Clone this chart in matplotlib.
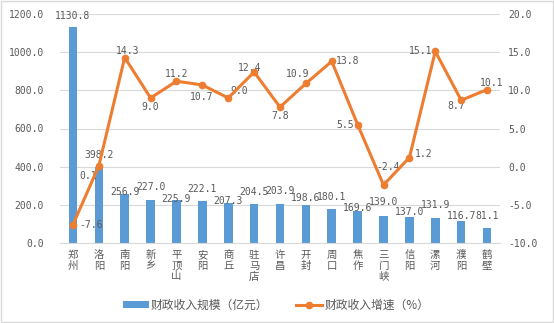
import matplotlib
matplotlib.use('Agg')
import matplotlib.pyplot as plt
import numpy as np

plt.rcParams['font.family'] = ['Noto Sans CJK SC', 'DejaVu Sans']

# 数据
cities = ['郑州', '洛阳', '南阳', '新乡', '平顶山', '安阳', '商丘', '驻马店', '许昌',
          '开封', '周口', '焦作', '三门峡', '信阳', '漯河', '濮阳', '鹤壁']
revenue = [1130.8, 398.2, 256.9, 227.0, 225.9, 222.1, 207.3, 204.5, 203.9,
           198.6, 180.1, 169.6, 139.0, 137.0, 131.9, 116.7, 81.1]
growth = [-7.6, 0.1, 14.3, 9.0, 11.2, 10.7, 9.0, 12.4, 7.8,
          10.9, 13.8, 5.5, -2.4, 1.2, 15.1, 8.7, 10.1]

# 标签位置（像素偏移，模仿原图的自动避让）
bar_dy = [11, 12, 2, 13, 1, 12, 2, 12, 13, 7, 12, 3, 14, 5, 13, 5, 12]
growth_offsets = [(18, 0), (-11, -10), (3, 7), (0, -9), (0, 7), (-1, -12), (11, 7), (-5, 4), (0, -9),
                  (-8, 9), (16, 0), (-13, 0), (5, 18), (14, 4), (-15, 0), (-5, -6), (5, 7)]

BAR_C = '#5B9BD5'
LINE_C = '#ED7D31'
TXT_C = '#595959'
NUM_FONT = ['DejaVu Sans Mono']

fig = plt.figure(figsize=(5.54, 3.23), dpi=100)
ax1 = fig.add_axes([60 / 554, 1 - 243 / 323, 440 / 554, 229 / 323])
ax2 = ax1.twinx()

x = np.arange(len(cities))
bars = ax1.bar(x, revenue, width=0.33, color=BAR_C, zorder=2, label='财政收入规模（亿元）')
ax1.set_ylim(0, 1200)
ax1.set_yticks(np.arange(0, 1201, 200))
ax1.set_yticklabels([f'{v:.1f}' for v in np.arange(0, 1201, 200)], family=NUM_FONT)
ax1.set_xlim(-0.5, len(cities) - 0.5)
ax1.grid(axis='y', color='#D9D9D9', lw=0.8, zorder=0)
ax1.set_axisbelow(True)
ax1.set_xticks(x)
ax1.set_xticklabels([])
ax1.tick_params(length=0, labelsize=7, colors=TXT_C, pad=11.5)

for i, v in enumerate(revenue):
    ax1.annotate(f'{v:.1f}', (x[i], v), xytext=(0, bar_dy[i]), textcoords='offset pixels',
                 ha='center', va='center', fontsize=7, color=TXT_C, zorder=5, family=NUM_FONT)

for i, c in enumerate(cities):
    ax1.text(x[i], -0.03, '\n'.join(c), transform=ax1.get_xaxis_transform(),
             ha='center', va='top', fontsize=7.5, color=TXT_C, linespacing=1.1)

line, = ax2.plot(x, growth, color=LINE_C, lw=2.2, marker='o', markersize=4.5,
                 zorder=4, label='财政收入增速（%）')
ax2.set_ylim(-10, 20)
ax2.set_yticks(np.arange(-10, 21, 5))
ax2.set_yticklabels([f'{v:.1f}' for v in np.arange(-10, 21, 5)], family=NUM_FONT)
ax2.tick_params(length=0, labelsize=7, colors=TXT_C, pad=6)

for i, v in enumerate(growth):
    dx, dy = growth_offsets[i]
    arrow = dict(arrowstyle='-', color='#A6A6A6', lw=0.6, shrinkA=4, shrinkB=2) if dy > 15 else None
    ax2.annotate(f'{v:.1f}', (x[i], v), xytext=(dx, dy), textcoords='offset pixels',
                 ha='center', va='center', fontsize=7, color=TXT_C, family=NUM_FONT,
                 arrowprops=arrow)

for ax in (ax1, ax2):
    for s in ax.spines.values():
        s.set_visible(False)
ax1.spines['bottom'].set_visible(True)
ax1.spines['bottom'].set_color('#D9D9D9')

fig.legend(handles=[bars, line], loc='center', bbox_to_anchor=(276 / 554, 1 - 305 / 323),
           ncol=2, frameon=False, fontsize=8.5, handlelength=2.2, handleheight=0.5,
           handletextpad=0.15, columnspacing=2.4, labelcolor=TXT_C)

border = plt.Rectangle((0.002, 0.003), 0.996, 0.994, transform=fig.transFigure,
                       fill=False, edgecolor='#D9D9D9', lw=1)
fig.patches.append(border)

fig.savefig('out.png', dpi=100)
